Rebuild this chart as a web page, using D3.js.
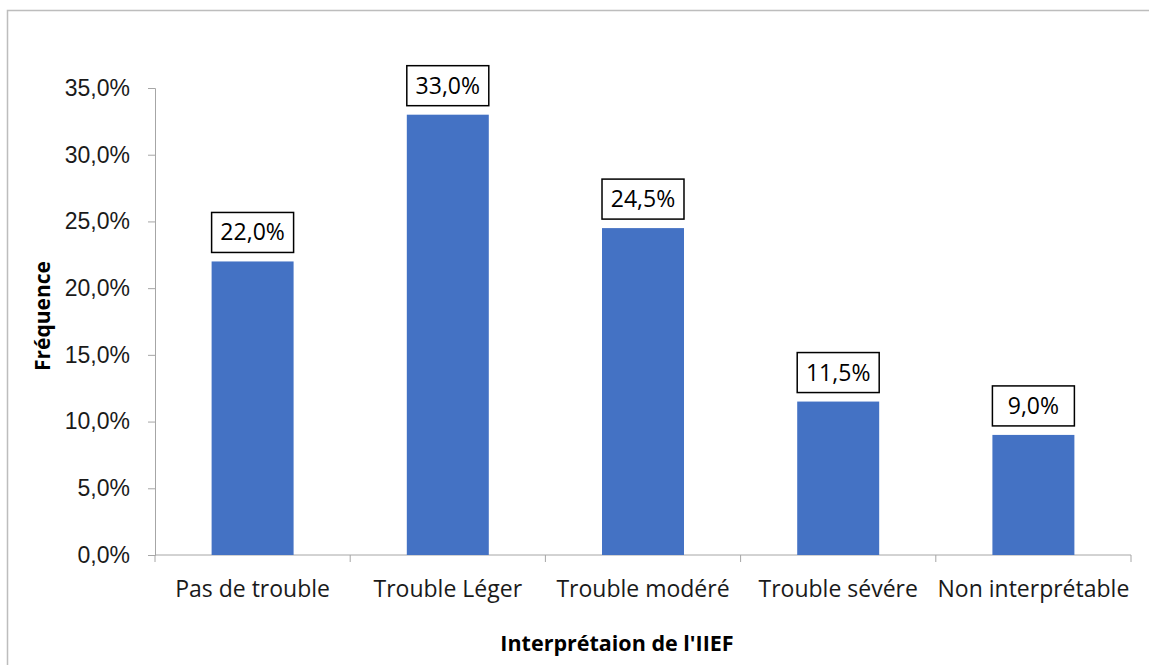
<!DOCTYPE html>
<html>
<head>
<meta charset="utf-8">
<script src="https://cdn.jsdelivr.net/npm/d3@7"></script>
<style>
  body { margin: 0; background: #fff; }
  svg { display: block; font-family: 'Open Sans', Lato, sans-serif; }
</style>
</head>
<body>
<div id="chart"></div>
<script>
const categories = ['Pas de trouble', 'Trouble Léger', 'Trouble modéré', 'Trouble sévére', 'Non interprétable'];
const values = [22.0, 33.0, 24.5, 11.5, 9.0];
const yTicks = [0, 5, 10, 15, 20, 25, 30, 35];

const width = 1149;
const height = 665;
const margin = { top: 88, right: 18, bottom: 110, left: 155 };

const fmt = (v) => v.toFixed(1).replace('.', ',') + '%';

const svg = d3.select('#chart')
  .append('svg')
  .attr('width', width)
  .attr('height', height);

// outer frame (runs off the right and bottom edges)
svg.append('rect')
  .attr('x', 7.5)
  .attr('y', 10.5)
  .attr('width', width + 20)
  .attr('height', height + 20)
  .attr('fill', 'none')
  .attr('stroke', '#bdbdbd')
  .attr('stroke-width', 1.5);

const x = d3.scaleBand()
  .domain(categories)
  .range([margin.left, width - margin.right])
  .paddingInner(0.58)
  .paddingOuter(0.29);

const y = d3.scaleLinear()
  .domain([0, 35])
  .range([height - margin.bottom, margin.top]);

const axisColor = '#a6a6a6';
const tickFont = '23px';

// y axis
const yAxis = svg.append('g')
  .attr('transform', `translate(${margin.left},0)`)
  .call(d3.axisLeft(y).tickValues(yTicks).tickSize(7).tickPadding(18).tickFormat(fmt));
yAxis.select('.domain').attr('stroke', axisColor);
yAxis.selectAll('.tick line').attr('stroke', axisColor);
yAxis.selectAll('.tick text')
  .attr('fill', '#1a1a1a')
  .style('font-size', tickFont);

// x axis, ticks between categories
const bandStep = (width - margin.right - margin.left) / categories.length;
const xAxis = svg.append('g')
  .attr('transform', `translate(0,${y(0)})`);
xAxis.append('line')
  .attr('x1', margin.left)
  .attr('x2', width - margin.right)
  .attr('stroke', axisColor);
xAxis.selectAll('line.tk')
  .data(d3.range(categories.length + 1))
  .join('line')
  .attr('class', 'tk')
  .attr('x1', (i) => margin.left + i * bandStep)
  .attr('x2', (i) => margin.left + i * bandStep)
  .attr('y1', 0)
  .attr('y2', 7)
  .attr('stroke', axisColor);
xAxis.selectAll('text')
  .data(categories)
  .join('text')
  .attr('x', (d) => x(d) + x.bandwidth() / 2)
  .attr('y', 42)
  .attr('text-anchor', 'middle')
  .attr('fill', '#1a1a1a')
  .style('font-size', tickFont)
  .text((d) => d);

// bars
svg.append('g')
  .selectAll('rect')
  .data(values)
  .join('rect')
  .attr('x', (_, i) => x(categories[i]))
  .attr('y', (d) => y(d))
  .attr('width', x.bandwidth())
  .attr('height', (d) => y(0) - y(d))
  .attr('fill', '#4472c4');

// value labels in boxes
const labels = svg.append('g')
  .selectAll('g')
  .data(values)
  .join('g')
  .attr('transform', (d, i) => `translate(${x(categories[i])},${y(d) - 49})`);
labels.append('rect')
  .attr('width', x.bandwidth())
  .attr('height', 40)
  .attr('fill', '#fff')
  .attr('stroke', '#000')
  .attr('stroke-width', 1.5);
labels.append('text')
  .attr('x', x.bandwidth() / 2)
  .attr('y', 28)
  .attr('text-anchor', 'middle')
  .attr('fill', '#000')
  .style('font-size', tickFont)
  .text((d) => fmt(d));

// axis titles
svg.append('text')
  .attr('x', 617)
  .attr('y', 651)
  .attr('text-anchor', 'middle')
  .style('font-size', '21.5px')
  .style('font-weight', 'bold')
  .attr('fill', '#000')
  .text("Interprétaion de l'IIEF");

svg.append('text')
  .attr('transform', 'translate(50,316) rotate(-90)')
  .attr('text-anchor', 'middle')
  .style('font-size', '21px')
  .style('font-weight', 'bold')
  .attr('fill', '#000')
  .text('Fréquence');
</script>
</body>
</html>
